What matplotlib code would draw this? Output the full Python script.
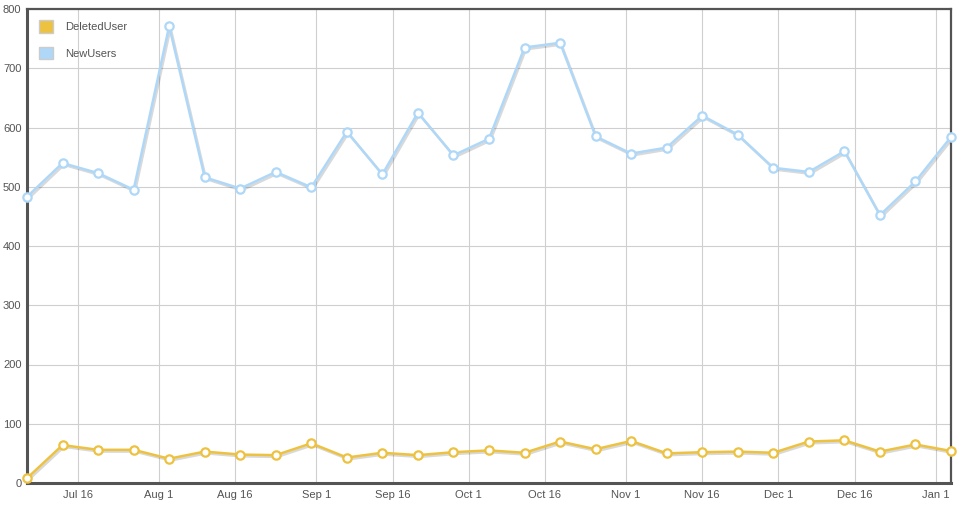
import pandas as pd
import numpy as np
import matplotlib
matplotlib.use('Agg')
import matplotlib.pyplot as plt
import matplotlib.patheffects as pe
from matplotlib.patches import Patch

# weekly data points
dates = pd.date_range('2014-07-06', periods=27, freq='7D')

new_users = [483, 540, 523, 495, 771, 516, 497, 525, 499, 593, 521, 625, 553, 581,
             735, 743, 585, 556, 566, 620, 588, 532, 525, 560, 452, 509, 584]
deleted_users = [8, 64, 56, 56, 41, 53, 48, 47, 67, 43, 51, 47, 52, 55,
                 51, 70, 57, 71, 50, 52, 53, 51, 70, 72, 53, 65, 54]

tick_dates = pd.to_datetime(['2014-07-16', '2014-08-01', '2014-08-16', '2014-09-01',
                             '2014-09-16', '2014-10-01', '2014-10-16', '2014-11-01',
                             '2014-11-16', '2014-12-01', '2014-12-16', '2015-01-01'])
tick_labels = ['Jul 16', 'Aug 1', 'Aug 16', 'Sep 1', 'Sep 16', 'Oct 1',
               'Oct 16', 'Nov 1', 'Nov 16', 'Dec 1', 'Dec 16', 'Jan 1']

gold = '#edc240'
blue = '#afd8f8'
frame = '#545454'

plt.rcParams['font.family'] = ['Liberation Sans', 'DejaVu Sans']

fig = plt.figure(figsize=(9.65, 5.07), dpi=100)
ax = fig.add_axes([27/965, 24/507, 924/965, 474/507])

shadow = [pe.SimpleLineShadow(offset=(1.0, -1.3), shadow_color='#000000', alpha=0.15),
          pe.Normal()]

for vals, col in [(deleted_users, gold), (new_users, blue)]:
    ax.plot(dates, vals, color=col, lw=1.8, path_effects=shadow, zorder=3,
            solid_joinstyle='round')
    ax.plot(dates, vals, ls='none', marker='o', ms=6, mfc='white', mec=col,
            mew=1.6, zorder=4, clip_on=False)

ax.set_xlim(dates[0], dates[-1])
ax.set_ylim(0, 800)
ax.set_yticks(range(0, 801, 100))
ax.set_xticks(tick_dates)
ax.set_xticklabels(tick_labels)

ax.grid(True, color='#cfcfcf', lw=0.8)
ax.set_axisbelow(True)
for s in ax.spines.values():
    s.set_color(frame)
    s.set_linewidth(1.6)
ax.spines['left'].set_linewidth(2.2)
ax.spines['bottom'].set_linewidth(2.2)

ax.tick_params(length=0, labelsize=8, colors='#545454', pad=5)
ax.tick_params(axis='y', pad=4)

handles = [Patch(facecolor=gold, edgecolor='#cccccc', lw=1),
           Patch(facecolor=blue, edgecolor='#cccccc', lw=1)]
leg = ax.legend(handles, ['DeletedUser', 'NewUsers'], loc='upper left',
                bbox_to_anchor=(0.0018, 0.997), frameon=False, fontsize=8,
                handlelength=1.3, handleheight=1.35, handletextpad=1.1,
                labelspacing=1.25, borderaxespad=0.5, labelcolor='#545454')

fig.savefig('out.png', dpi=100)
